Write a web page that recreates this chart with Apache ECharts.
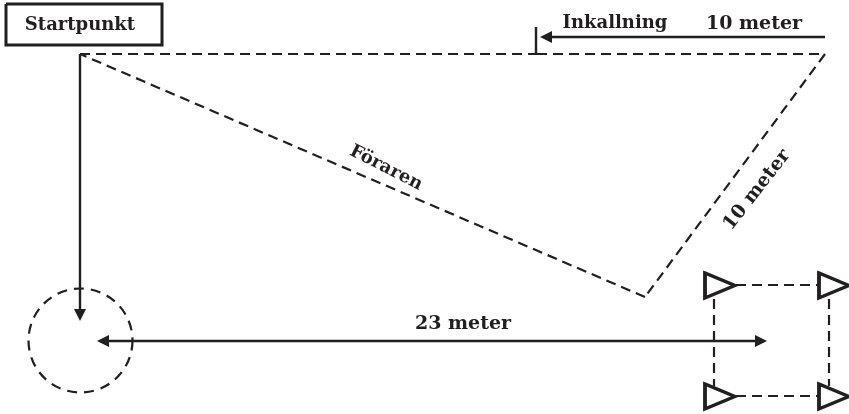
<!DOCTYPE html>
<html><head><meta charset="utf-8">
<style>html,body{margin:0;padding:0;background:#fff}#c{width:849px;height:414px}</style>
<script src="https://cdn.jsdelivr.net/npm/echarts@6/dist/echarts.min.js"></script>
</head><body><div id="c"></div>
<script>
const INK = '#231f20';
const startBox = [[6,4],[162,4],[162,45],[6,45],[6,4]];
const topPath = [[80,54],[537,54]];
const topPathRight = [[537,54],[825,54]];
const returnLeg = [[825,54],[645,297]];
const handlerLeg = [[645,297],[80,54]];
const callTick = [[536,27],[536,54]];
const squareEdges = [
  [[736,285],[818,285]],
  [[736,396],[818,396]],
  [[714,299],[714,386]],
  [[829,299],[829,386]]
];
const arrows = [
  {coords:[[825,37],[546,37]], ends:['none','triangle']},
  {coords:[[80,54],[80,315]], ends:['none','triangle']},
  {coords:[[103,341],[761,341]], ends:['triangle','triangle']}
];
const circleCentre = [[80.5,340.5]];
const cones = [[720,285.5],[834,285.5],[720,396.5],[834,396.5]];
const labels = [
  {t:'Startpunkt', p:[80,25], r:0, s:18},
  {t:'Inkallning', p:[615,23], r:0, s:18},
  {t:'10 meter', p:[754,24], r:0, s:19},
  {t:'Föraren', p:[386,168], r:-27, s:18},
  {t:'10 meter', p:[757,190], r:52, s:19},
  {t:'23 meter', p:[463,324], r:0, s:19}
];
const solid = (d,w) => ({type:'line',data:d,showSymbol:false,silent:true,z:3,lineStyle:{color:INK,width:w||2.4,type:'solid',join:'miter',cap:'butt'}});
const dashed = d => ({type:'line',data:d,showSymbol:false,silent:true,z:2,lineStyle:{color:INK,width:2.2,type:[10,6],cap:'butt'}});
const chart = echarts.init(document.getElementById('c'),null,{renderer:'canvas'});
chart.setOption({
  animation:false,
  backgroundColor:'#fff',
  grid:{left:0,right:0,top:0,bottom:0},
  xAxis:{type:'value',min:0,max:849,show:false},
  yAxis:{type:'value',min:0,max:414,inverse:true,show:false},
  series:[
    solid(startBox,3),
    dashed(topPath),dashed(topPathRight),dashed(returnLeg),dashed(handlerLeg),
    solid(callTick),
    ...squareEdges.map(dashed),
    ...arrows.map(a=>({type:'lines',coordinateSystem:'cartesian2d',silent:true,z:4,
      symbol:a.ends,symbolSize:12,
      lineStyle:{color:INK,width:2.4,opacity:1,curveness:0},
      data:[{coords:a.coords}]})),
    {type:'scatter',data:circleCentre,symbol:'circle',symbolSize:104,silent:true,z:2,
      itemStyle:{color:'transparent',borderColor:INK,borderWidth:2.2,borderType:[10,7],opacity:1}},
    {type:'scatter',data:cones,symbol:'path://M0 0L32 13.5L0 27Z',symbolSize:[30,25],silent:true,z:5,
      itemStyle:{color:'#fff',borderColor:INK,borderWidth:3.5,borderJoin:'miter',opacity:1}},
    {type:'scatter',symbolSize:1,silent:true,z:6,itemStyle:{color:'transparent',opacity:1},
      data:labels.map(l=>({value:l.p,label:{show:true,position:'inside',formatter:l.t,rotate:l.r,opacity:1,
        color:INK,fontFamily:'DejaVu Serif',fontWeight:'bold',fontSize:l.s,align:'center',verticalAlign:'middle'}}))}
  ]
});
</script></body></html>
